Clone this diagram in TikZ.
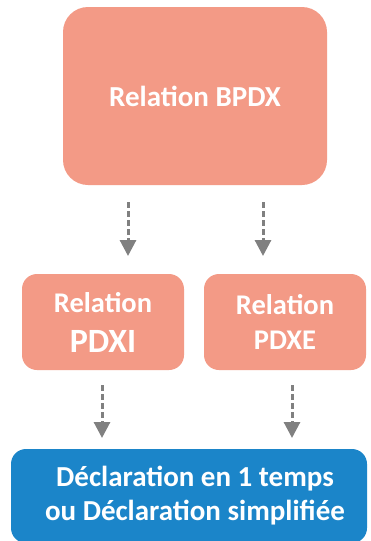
\documentclass[tikz,border=0pt]{standalone}
\usepackage{fontspec}
\setmainfont{Carlito}
\usepackage{xcolor}
\usetikzlibrary{arrows.meta, positioning}

\definecolor{salmon}{HTML}{F39A86}
\definecolor{declblue}{HTML}{1B85C9}
\definecolor{flowgray}{HTML}{808080}

\begin{document}
\begin{tikzpicture}[x=1pt, y=1pt,
                    bigblock/.style={rectangle, fill=salmon, rounded corners=25pt, text=white, align=center, minimum width=264pt, minimum height=178pt, outer sep=0pt, font=\bfseries\fontsize{29}{35}\selectfont},
                    block/.style={rectangle, fill=salmon, rounded corners=15pt, text=white, align=center, minimum width=162pt, minimum height=96pt, inner sep=0pt, outer sep=0pt, font=\bfseries\fontsize{28.5}{35}\selectfont},
                    declblock/.style={rectangle, fill=declblue, rounded corners=15pt, text=white, align=center, minimum width=356pt, minimum height=94pt, inner sep=0pt, outer sep=0pt, font=\bfseries\fontsize{29}{33}\selectfont},
                    flow/.style={flowgray, line width=3pt, dash pattern=on 6pt off 3pt, -{Triangle[width=16pt,length=16pt]}},
                    node distance=20pt]

\clip (0,0) rectangle (370,-541);
\fill[white] (0,0) rectangle (370,-541);

% Place the blocks
\node[bigblock] (bpdx) at (195,-96) {Relation BPDX};
\node[block, below right=89pt and -41pt of bpdx.south west] (pdxi) {Relation\\[5pt]{\fontsize{34}{40}\selectfont PDXI}};
\node[block, right=of pdxi] (pdxe) {Relation\\PDXE};
% text sits a bit right of the box centre
\node[declblock, below right=79pt and -11pt of pdxi.south west] (decl) {\hspace*{12pt}Déclaration en 1 temps\\[1pt]\hspace*{12pt}ou Déclaration simplifiée};

% Dashed arrows between levels
\draw[flow, shorten <=17pt, shorten >=18pt] ([xshift=-67pt]bpdx.south) -- ([xshift=-67pt]bpdx.south |- pdxi.north);
\draw[flow, shorten <=17pt, shorten >=18pt] ([xshift=68pt]bpdx.south) -- ([xshift=68pt]bpdx.south |- pdxe.north);
\draw[flow, shorten <=15pt, shorten >=11pt] ([xshift=-1pt]pdxi.south) -- ([xshift=-1pt]pdxi.south |- decl.north);
\draw[flow, shorten <=15pt, shorten >=11pt] ([xshift=7pt]pdxe.south) -- ([xshift=7pt]pdxe.south |- decl.north);

\end{tikzpicture}
\end{document}
